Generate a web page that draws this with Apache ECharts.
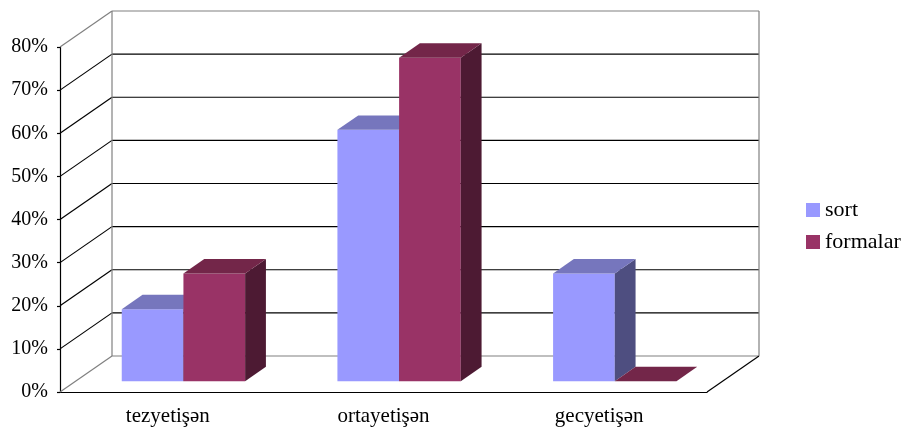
<!DOCTYPE html>
<html>
<head>
<meta charset="utf-8">
<script src="https://cdn.jsdelivr.net/npm/echarts@6/dist/echarts.min.js"></script>
<style>
  html, body { margin: 0; padding: 0; background: #fff; }
  #chart { width: 906px; height: 427px; }
</style>
</head>
<body>
<div id="chart"></div>
<script>
// Share of varieties (sort) and forms (formalar) by ripening group, in %
const categories = ['tezyetişən', 'ortayetişən', 'gecyetişən'];
const sortValues = [16.7, 58.3, 25];
const formalarValues = [25, 75, 0];
const yTicks = [0, 10, 20, 30, 40, 50, 60, 70, 80];

// Oblique projection of the chart depth: back wall offset in pixels
const DEPTH_X = 52, DEPTH_Y = -36;
// Bars sit between these fractions of the depth
const BAR_NEAR = 0.3, BAR_FAR = 0.7;
// Width of one bar as a fraction of a category band
const BAR_FRACTION = 0.286;
const FONT = 'Liberation Serif';
const LINE_W = 1.2;

const palette = {
  sort: { front: '#9999FF', top: '#7676BD', side: '#4E4E80' },
  formalar: { front: '#993366', top: '#732649', side: '#4D1A33' }
};

// Back wall, its grid lines and the diagonals joining it to the value axis
function wallItem(params, api) {
  const v = api.value(1);
  const band = api.size([1, 0])[0];
  const p = api.coord([0, v]);
  const left = p[0] - band / 2;
  const right = api.coord([categories.length - 1, v])[0] + band / 2;
  const y = p[1];
  const vMin = yTicks[0], vMax = yTicks[yTicks.length - 1];
  const isEdge = v === vMin || v === vMax;
  const color = isEdge ? '#808080' : '#000000';
  const children = [
    { type: 'line', shape: { x1: left, y1: y, x2: left + DEPTH_X, y2: y + DEPTH_Y },
      style: { stroke: color, lineWidth: LINE_W } },
    { type: 'line', shape: { x1: left + DEPTH_X, y1: y + DEPTH_Y, x2: right + DEPTH_X, y2: y + DEPTH_Y },
      style: { stroke: color, lineWidth: LINE_W } }
  ];
  if (v === vMin) {
    children.push({ type: 'line',
      shape: { x1: right, y1: y, x2: right + DEPTH_X, y2: y + DEPTH_Y },
      style: { stroke: '#000000', lineWidth: LINE_W } });
  }
  if (v === vMax) {
    const yb = api.coord([0, vMin])[1];
    children.push({ type: 'line',
      shape: { x1: left + DEPTH_X, y1: y + DEPTH_Y, x2: left + DEPTH_X, y2: yb + DEPTH_Y },
      style: { stroke: '#808080', lineWidth: LINE_W } });
    children.push({ type: 'line',
      shape: { x1: right + DEPTH_X, y1: y + DEPTH_Y, x2: right + DEPTH_X, y2: yb + DEPTH_Y },
      style: { stroke: '#808080', lineWidth: LINE_W } });
  }
  return { type: 'group', children: children };
}

// 3D box bar: front face, top face and right side face
function boxBar(colors, side) {
  return function (params, api) {
    const idx = api.value(0);
    const v = api.value(1);
    const band = api.size([1, 0])[0];
    const w = band * BAR_FRACTION;
    const c = api.coord([idx, v]);
    const base = api.coord([idx, 0])[1];
    const x0 = side < 0 ? c[0] - w : c[0];
    const x1 = x0 + w;
    const nx = BAR_NEAR * DEPTH_X, ny = BAR_NEAR * DEPTH_Y;
    const fx = BAR_FAR * DEPTH_X, fy = BAR_FAR * DEPTH_Y;
    const top = c[1], bottom = base;
    return {
      type: 'group',
      children: [
        { type: 'polygon',
          shape: { points: [[x0 + nx, top + ny], [x1 + nx, top + ny], [x1 + nx, bottom + ny], [x0 + nx, bottom + ny]] },
          style: { fill: colors.front } },
        { type: 'polygon',
          shape: { points: [[x1 + nx, top + ny], [x1 + fx, top + fy], [x1 + fx, bottom + fy], [x1 + nx, bottom + ny]] },
          style: { fill: colors.side } },
        { type: 'polygon',
          shape: { points: [[x0 + nx, top + ny], [x1 + nx, top + ny], [x1 + fx, top + fy], [x0 + fx, top + fy]] },
          style: { fill: colors.top } }
      ]
    };
  };
}

const chart = echarts.init(document.getElementById('chart'), null, { renderer: 'canvas' });

chart.setOption({
  animation: false,
  backgroundColor: '#ffffff',
  grid: { left: 60, top: 47, width: 647, height: 346, containLabel: false },
  legend: {
    orient: 'vertical',
    left: 806,
    top: 199,
    padding: 0,
    itemWidth: 14,
    itemHeight: 14,
    itemGap: 10,
    icon: 'rect',
    textStyle: { fontFamily: FONT, fontSize: 22, color: '#000' },
    data: ['sort', 'formalar']
  },
  xAxis: {
    type: 'category',
    data: categories,
    axisLine: { lineStyle: { color: '#000', width: LINE_W } },
    axisTick: { length: 4, lineStyle: { color: '#000', width: LINE_W } },
    axisLabel: { fontFamily: FONT, fontSize: 21, color: '#000', margin: 14 },
    splitLine: { show: false }
  },
  yAxis: {
    type: 'value',
    min: 0,
    max: 80,
    interval: 10,
    axisLine: { show: true, lineStyle: { color: '#000', width: LINE_W } },
    axisTick: { show: true, inside: false, length: 3, lineStyle: { color: '#000', width: LINE_W } },
    axisLabel: { fontFamily: FONT, fontSize: 20, color: '#000', margin: 12,
                 padding: [8, 0, 0, 0], formatter: '{value}%' },
    splitLine: { show: false }
  },
  series: [
    {
      name: 'wall',
      type: 'custom',
      renderItem: wallItem,
      encode: { x: 0, y: 1 },
      data: yTicks.map(function (v) { return [0, v]; }),
      silent: true,
      z: 1
    },
    {
      name: 'sort',
      type: 'custom',
      renderItem: boxBar(palette.sort, -1),
      encode: { x: 0, y: 1 },
      itemStyle: { color: palette.sort.front },
      data: sortValues.map(function (v, i) { return [i, v]; }),
      z: 2
    },
    {
      name: 'formalar',
      type: 'custom',
      renderItem: boxBar(palette.formalar, 1),
      encode: { x: 0, y: 1 },
      itemStyle: { color: palette.formalar.front },
      data: formalarValues.map(function (v, i) { return [i, v]; }),
      z: 3
    }
  ]
});
</script>
</body>
</html>
